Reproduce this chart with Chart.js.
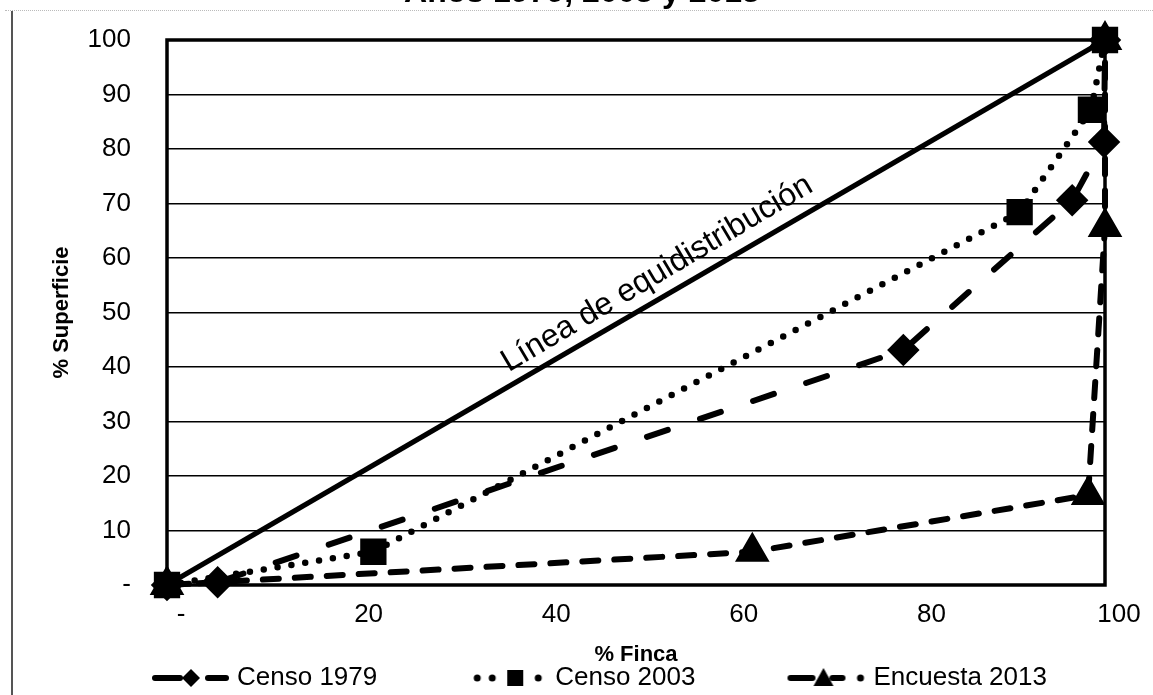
<!DOCTYPE html>
<html>
<head>
<meta charset="utf-8">
<script src="https://cdn.jsdelivr.net/npm/chart.js@4.4.1/dist/chart.umd.min.js"></script>
<style>
  html, body { margin: 0; padding: 0; background: #fff; }
  #frame { position: relative; width: 1153px; height: 695px; overflow: hidden; background: #fff; }
  #chart { position: absolute; left: 0; top: -26px; }
  #scanLeft { position: absolute; left: 11px; top: 11px; bottom: 0; border-left: 2px solid #555; }
  #scanTop { position: absolute; left: 5px; right: 0; top: 10px; height: 0; border-top: 1px dotted #bbb; }
</style>
</head>
<body>
<div id="frame">
  <div id="scanTop"></div>
  <canvas id="chart" width="1153" height="727"></canvas>
  <div id="scanLeft"></div>
</div>
<script>
const titulo = 'Años 1979, 2003 y 2013';
const etiquetaLinea = 'Línea de equidistribución';

// línea de equidistribución
const equiX = [0, 100];
const equiY = [0, 100];

// % finca acumulado / % superficie acumulada
const finca1979 = [0, 5.4, 78.5, 96.5, 99.9, 100];
const superficie1979 = [0, 0.5, 43.1, 70.6, 81.3, 100];

const finca2003 = [0, 22, 90.9, 98.5, 100];
const superficie2003 = [0, 6.1, 68.4, 87.2, 100];

const finca2013 = [0, 62.4, 98.2, 100, 100];
const superficie2013 = [0, 6.1, 16.5, 65.7, 100];

const FONT = '"Liberation Sans", Arial, sans-serif';
Chart.defaults.font.family = FONT;
Chart.defaults.color = '#000';

const pts = (xs, ys) => xs.map((x, i) => ({ x: x, y: ys[i] }));
const tickLabel = v => (v === 0 ? '-' : v);

const BOX = 165;

// legend symbol drawn at the right end of a wide image
function legendIcon(segs, dots, shape, at) {
  const c = document.createElement('canvas');
  c.width = BOX + 16;
  c.height = 30;
  const g = c.getContext('2d');
  const o = c.width - 2 - 78, cy = 15;
  g.strokeStyle = '#000';
  g.fillStyle = '#000';
  g.lineWidth = 6;
  g.lineCap = 'round';
  segs.forEach(s => {
    g.beginPath();
    g.moveTo(o + s[0], cy);
    g.lineTo(o + s[1], cy);
    g.stroke();
  });
  dots.forEach(d => {
    g.beginPath();
    g.arc(o + d, cy, 3.5, 0, Math.PI * 2);
    g.fill();
  });
  const cx = o + at;
  g.beginPath();
  if (shape === 'rectRot') {
    g.moveTo(cx, cy - 9); g.lineTo(cx + 9, cy); g.lineTo(cx, cy + 9); g.lineTo(cx - 9, cy);
  } else if (shape === 'rect') {
    g.rect(cx - 8, cy - 8, 16, 16);
  } else {
    g.moveTo(cx, cy - 10); g.lineTo(cx + 10, cy + 8); g.lineTo(cx - 10, cy + 8);
  }
  g.closePath();
  g.fill();
  return c;
}

const plotFrame = {
  id: 'plotFrame',
  beforeDatasetsDraw(chart) {
    const { ctx, chartArea: a } = chart;
    ctx.save();
    ctx.strokeStyle = '#000';
    ctx.lineWidth = 3.5;
    ctx.strokeRect(a.left, a.top, a.right - a.left, a.bottom - a.top);
    ctx.restore();
  }
};

const equiLabel = {
  id: 'equiLabel',
  afterDatasetsDraw(chart) {
    const { ctx } = chart;
    const sx = chart.scales.x, sy = chart.scales.y;
    const x0 = sx.getPixelForValue(equiX[0]), y0 = sy.getPixelForValue(equiY[0]);
    const x1 = sx.getPixelForValue(equiX[1]), y1 = sy.getPixelForValue(equiY[1]);
    const t = 0.535;
    ctx.save();
    ctx.translate(x0 + (x1 - x0) * t, y0 + (y1 - y0) * t);
    ctx.rotate(Math.atan2(y1 - y0, x1 - x0) - 0.01);
    ctx.font = '32px ' + FONT;
    ctx.fillStyle = '#000';
    ctx.textAlign = 'center';
    ctx.textBaseline = 'alphabetic';
    ctx.fillText(etiquetaLinea, 0, -14);
    ctx.restore();
  }
};

new Chart(document.getElementById('chart'), {
  type: 'scatter',
  data: {
    datasets: [
      {
        label: etiquetaLinea,
        data: pts(equiX, equiY),
        showLine: true,
        borderColor: '#000',
        borderWidth: 5,
        pointRadius: 0,
        clip: false
      },
      {
        label: 'Censo 1979',
        data: pts(finca1979, superficie1979),
        showLine: true,
        borderColor: '#000',
        borderWidth: 6,
        borderDash: [22, 34],
        borderCapStyle: 'round',
        pointStyle: 'rectRot',
        pointRadius: 12,
        pointBackgroundColor: '#000',
        pointBorderColor: '#000',
        clip: false,
        legendIcon: legendIcon([[3, 28], [56, 74]], [], 'rectRot', 39)
      },
      {
        label: 'Censo 2003',
        data: pts(finca2003, superficie2003),
        showLine: true,
        borderColor: '#000',
        borderWidth: 6.5,
        borderDash: [0, 14],
        borderCapStyle: 'round',
        pointStyle: 'rect',
        pointRadius: 14,
        pointBackgroundColor: '#000',
        pointBorderColor: '#000',
        clip: false,
        legendIcon: legendIcon([], [7, 22, 68], 'rect', 45)
      },
      {
        label: 'Encuesta 2013',
        data: pts(finca2013, superficie2013),
        showLine: true,
        borderColor: '#000',
        borderWidth: 6,
        borderDash: [16, 16],
        borderCapStyle: 'round',
        pointStyle: 'triangle',
        pointRadius: 14,
        pointBackgroundColor: '#000',
        pointBorderColor: '#000',
        clip: false,
        legendIcon: legendIcon([[2, 24], [44, 54]], [72], 'triangle', 35)
      }
    ]
  },
  options: {
    responsive: false,
    animation: false,
    devicePixelRatio: 1,
    layout: { padding: { left: 59, right: 48, top: 0, bottom: 0 } },
    plugins: {
      title: {
        display: true,
        text: titulo,
        color: '#000',
        font: { size: 32, weight: 'bold' },
        padding: { top: 0, bottom: 27.6 }
      },
      legend: {
        position: 'bottom',
        align: 'start',
        labels: {
          usePointStyle: true,
          pointStyleWidth: BOX,
          padding: 0,
          color: '#000',
          font: { size: 26 },
          generateLabels: chart => chart.data.datasets
            .map((ds, i) => ({
              text: ds.label,
              pointStyle: ds.legendIcon,
              datasetIndex: i,
              hidden: false,
              lineWidth: 0,
              fontColor: '#000'
            }))
            .filter(item => item.pointStyle)
        }
      },
      tooltip: { enabled: false }
    },
    scales: {
      x: {
        type: 'linear',
        min: 0,
        max: 100,
        grid: { display: false, drawTicks: false },
        border: { display: false },
        ticks: { stepSize: 20, padding: 14, labelOffset: 14, color: '#000', font: { size: 26 }, callback: tickLabel },
        title: {
          display: true,
          text: '% Finca',
          color: '#000',
          font: { size: 22, weight: 'bold' },
          padding: { top: 0, bottom: -3.2 }
        },
        afterFit: scale => { scale.height = 80; }
      },
      y: {
        type: 'linear',
        min: 0,
        max: 100,
        grid: { color: '#000', lineWidth: 1.5, drawTicks: false },
        border: { display: false },
        ticks: { stepSize: 10, padding: 36, color: '#000', font: { size: 26 }, callback: tickLabel },
        title: {
          display: true,
          text: '% Superficie',
          color: '#000',
          font: { size: 22, weight: 'bold' },
          padding: { top: -10.2, bottom: 0 }
        },
        afterFit: scale => { scale.width = 108; }
      }
    }
  },
  plugins: [plotFrame, equiLabel]
});
</script>
</body>
</html>
